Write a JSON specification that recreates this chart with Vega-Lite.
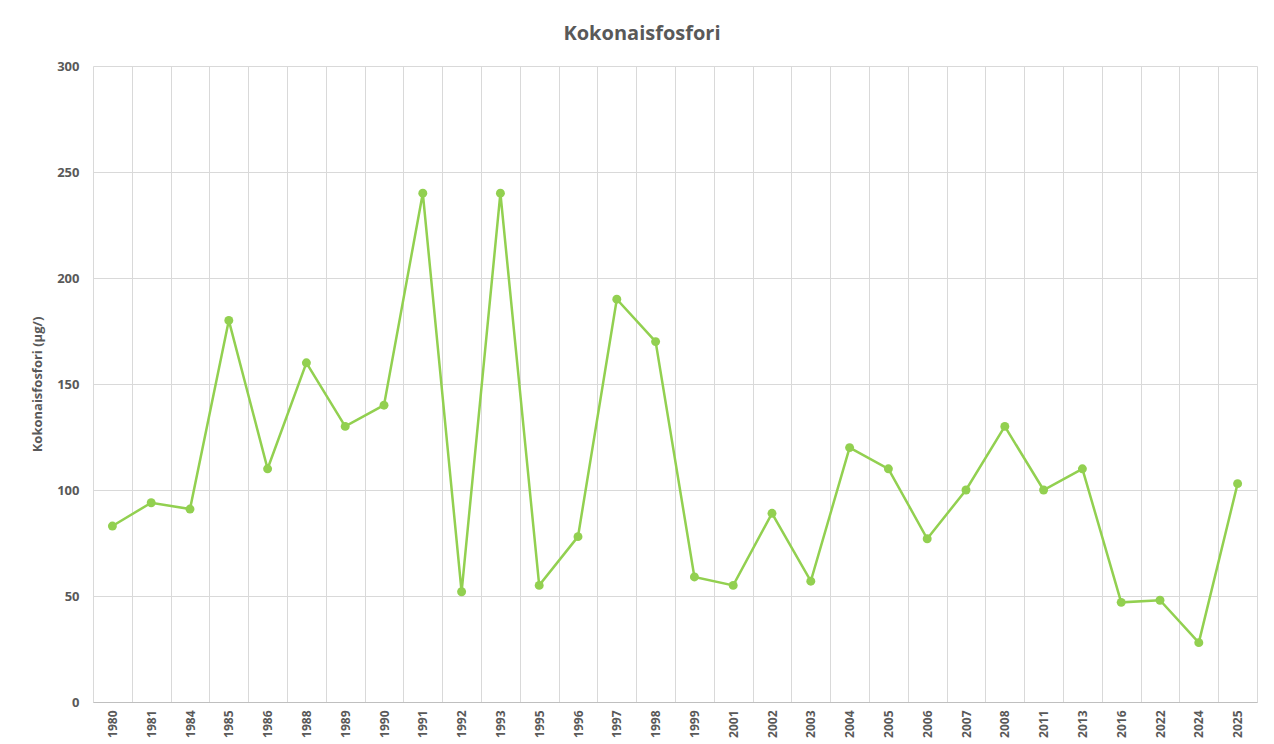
{
  "$schema": "https://vega.github.io/schema/vega-lite/v6.json",
  "autosize": "none",
  "width": 1164,
  "height": 636,
  "padding": {"left": 93, "top": 66, "right": 17, "bottom": 42},
  "background": "white",
  "title": {
    "text": "Kokonaisfosfori",
    "font": "Open Sans",
    "fontSize": 20,
    "fontWeight": "bold",
    "color": "#595959",
    "anchor": "middle",
    "dx": -33,
    "offset": 16
  },
  "data": {
    "values": [
      {"vuosi": "1980", "arvo": 83},
      {"vuosi": "1981", "arvo": 94},
      {"vuosi": "1984", "arvo": 91},
      {"vuosi": "1985", "arvo": 180},
      {"vuosi": "1986", "arvo": 110},
      {"vuosi": "1988", "arvo": 160},
      {"vuosi": "1989", "arvo": 130},
      {"vuosi": "1990", "arvo": 140},
      {"vuosi": "1991", "arvo": 240},
      {"vuosi": "1992", "arvo": 52},
      {"vuosi": "1993", "arvo": 240},
      {"vuosi": "1995", "arvo": 55},
      {"vuosi": "1996", "arvo": 78},
      {"vuosi": "1997", "arvo": 190},
      {"vuosi": "1998", "arvo": 170},
      {"vuosi": "1999", "arvo": 59},
      {"vuosi": "2001", "arvo": 55},
      {"vuosi": "2002", "arvo": 89},
      {"vuosi": "2003", "arvo": 57},
      {"vuosi": "2004", "arvo": 120},
      {"vuosi": "2005", "arvo": 110},
      {"vuosi": "2006", "arvo": 77},
      {"vuosi": "2007", "arvo": 100},
      {"vuosi": "2008", "arvo": 130},
      {"vuosi": "2011", "arvo": 100},
      {"vuosi": "2013", "arvo": 110},
      {"vuosi": "2016", "arvo": 47},
      {"vuosi": "2022", "arvo": 48},
      {"vuosi": "2024", "arvo": 28},
      {"vuosi": "2025", "arvo": 103}
    ]
  },
  "encoding": {
    "x": {
      "field": "vuosi",
      "type": "ordinal",
      "sort": null,
      "scale": {"type": "band", "paddingInner": 0, "paddingOuter": 0},
      "axis": {
        "title": null,
        "labelAngle": -90,
        "labelAlign": "right",
        "labelBaseline": "middle",
        "labelFont": "Open Sans",
        "labelFontSize": 12,
        "labelFontWeight": "bold",
        "labelColor": "#595959",
        "labelPadding": 8,
        "ticks": false,
        "tickBand": "extent",
        "grid": true,
        "gridColor": "#d9d9d9",
        "gridWidth": 1,
        "domainColor": "#bfbfbf",
        "domainWidth": 1
      }
    },
    "y": {
      "field": "arvo",
      "type": "quantitative",
      "scale": {"domain": [0, 300], "nice": false},
      "axis": {
        "title": "Kokonaisfosfori (µg/)",
        "titleFont": "Open Sans",
        "titleFontSize": 13,
        "titleFontWeight": "bold",
        "titleColor": "#595959",
        "titlePadding": 12,
        "values": [0, 50, 100, 150, 200, 250, 300],
        "labelFont": "Open Sans",
        "labelFontSize": 13,
        "labelFontWeight": "bold",
        "labelColor": "#595959",
        "labelPadding": 14,
        "ticks": false,
        "domain": false,
        "grid": true,
        "gridColor": "#d9d9d9",
        "gridWidth": 1
      }
    }
  },
  "layer": [
    {"mark": {"type": "line", "color": "#92D050", "strokeWidth": 2.5}},
    {"mark": {"type": "point", "filled": true, "opacity": 1, "color": "#92D050", "size": 80}}
  ],
  "config": {"view": {"stroke": null}}
}
